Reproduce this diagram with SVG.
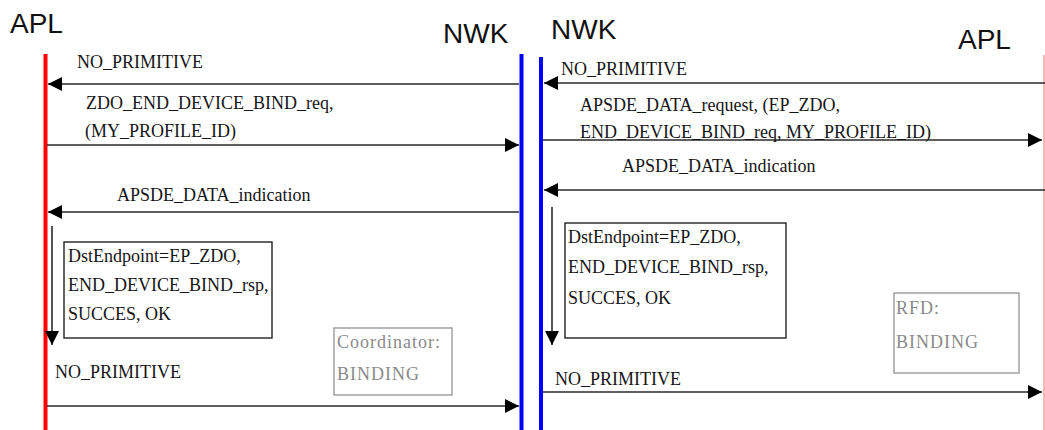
<svg xmlns="http://www.w3.org/2000/svg" width="1045" height="430" viewBox="0 0 1045 430">
<style>
.title{font-family:"Liberation Sans",Arial,sans-serif;font-size:28px;fill:#111}
.msg{font-family:"Liberation Serif","Times New Roman",serif;font-size:18px;fill:#151515}
.note{font-family:"Liberation Serif","Times New Roman",serif;font-size:18px;fill:#8a8a8a;letter-spacing:1px}
.conn{stroke:#2a2a2a;stroke-width:1.6;fill:none}
.box{fill:none;stroke:#222;stroke-width:1.4}
.gbox{fill:none;stroke:#9a9a9a;stroke-width:1.4}
</style>
<defs>
<marker id="ah" markerUnits="userSpaceOnUse" markerWidth="15" markerHeight="15" refX="14" refY="7" orient="auto">
<path d="M0,0 L14,7 L0,14 z" fill="#000"/>
</marker>
</defs>
<rect width="1045" height="430" fill="#fff"/>
<g id="lifelines">
<line x1="45.5" y1="54" x2="45.5" y2="430" stroke="#ff0000" stroke-width="4"/>
<line x1="521.5" y1="54" x2="521.5" y2="430" stroke="#0000ff" stroke-width="4"/>
<line x1="541" y1="57" x2="541" y2="430" stroke="#0000ff" stroke-width="4"/>
<line x1="1044" y1="55" x2="1044" y2="430" stroke="#f2a0a0" stroke-width="1.5"/>
</g>
<g id="titles">
<text class="title" x="10" y="33">APL</text>
<text class="title" x="443" y="43">NWK</text>
<text class="title" x="551" y="39">NWK</text>
<text class="title" x="958" y="49">APL</text>
</g>
<g id="connectors">
<line class="conn" x1="519" y1="84" x2="48" y2="84" marker-end="url(#ah)"/>
<line class="conn" x1="47" y1="145" x2="519" y2="145" marker-end="url(#ah)"/>
<line class="conn" x1="519" y1="212" x2="48" y2="212" marker-end="url(#ah)"/>
<line class="conn" x1="52" y1="226" x2="52" y2="345" marker-end="url(#ah)"/>
<line class="conn" x1="47" y1="406" x2="519" y2="406" marker-end="url(#ah)"/>
<line class="conn" x1="1045" y1="83" x2="544" y2="83" marker-end="url(#ah)"/>
<line class="conn" x1="543" y1="140" x2="1042" y2="140" marker-end="url(#ah)"/>
<line class="conn" x1="1045" y1="190" x2="544" y2="190" marker-end="url(#ah)"/>
<line class="conn" x1="552" y1="207" x2="552" y2="345" marker-end="url(#ah)"/>
<line class="conn" x1="543" y1="392" x2="1042" y2="392" marker-end="url(#ah)"/>
</g>
<g id="labels-left">
<text class="msg" x="77" y="68">NO_PRIMITIVE</text>
<text class="msg" x="86" y="109">ZDO_END_DEVICE_BIND_req,</text>
<text class="msg" x="85" y="137">(MY_PROFILE_ID)</text>
<text class="msg" x="117" y="201">APSDE_DATA_indication</text>
<text class="msg" x="55" y="378">NO_PRIMITIVE</text>
</g>
<g id="labels-right">
<text class="msg" x="561" y="75">NO_PRIMITIVE</text>
<text class="msg" x="580" y="111">APSDE_DATA_request, (EP_ZDO,</text>
<text class="msg" x="580" y="138">END_DEVICE_BIND_req, MY_PROFILE_ID)</text>
<text class="msg" x="622" y="172">APSDE_DATA_indication</text>
<text class="msg" x="555" y="385">NO_PRIMITIVE</text>
</g>
<g id="rsp-box-left">
<rect class="box" x="64" y="242" width="208" height="96"/>
<text class="msg" x="68" y="262">DstEndpoint=EP_ZDO,</text>
<text class="msg" x="68" y="291">END_DEVICE_BIND_rsp,</text>
<text class="msg" x="68" y="320">SUCCES, OK</text>
</g>
<g id="coordinator-note">
<rect class="gbox" x="334" y="328" width="118" height="67"/>
<text class="note" x="337" y="348">Coordinator:</text>
<text class="note" x="337" y="380">BINDING</text>
</g>
<g id="rsp-box-right">
<rect class="box" x="565" y="223" width="221" height="115"/>
<text class="msg" x="568" y="243">DstEndpoint=EP_ZDO,</text>
<text class="msg" x="568" y="273">END_DEVICE_BIND_rsp,</text>
<text class="msg" x="568" y="304">SUCCES, OK</text>
</g>
<g id="rfd-note">
<rect class="gbox" x="894" y="293" width="125" height="80"/>
<text class="note" x="896" y="314">RFD:</text>
<text class="note" x="896" y="348">BINDING</text>
</g>
</svg>
